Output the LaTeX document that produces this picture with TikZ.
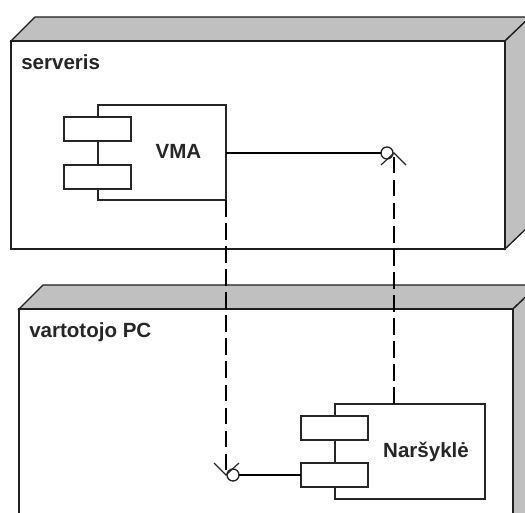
\documentclass[tikz,border=0pt]{standalone}
\usepackage{fontspec}
\setmainfont{Liberation Sans}
\tikzset{
  px/.style={x=0.75pt,y=-0.75pt},
  edge/.style={draw=black!88,line width=1pt,line join=miter},
  shade3d/.style={edge,fill=shadegray},
  face/.style={edge,fill=white},
  compbody/.style={draw=black!85,line width=1pt,fill=white,rectangle,inner sep=0pt,outer sep=0pt,minimum width=96pt,minimum height=71.25pt},
  comppart/.style={draw=black!85,line width=1pt,fill=white,rectangle,inner sep=0pt,outer sep=0pt,minimum width=50.25pt,minimum height=18pt},
  lollipop/.style={draw=black!88,line width=1pt,fill=white,circle,inner sep=0pt,outer sep=0pt,minimum size=9pt},
  lab/.style={font=\bfseries\fontsize{15.4pt}{17pt}\selectfont,text=black!85,inner sep=0pt,anchor=base west},
  complab/.style={font=\bfseries\fontsize{15.4pt}{17pt}\selectfont,text=black!85,inner sep=0pt,anchor=base},
  wire/.style={draw=black,line width=1pt},
  depend/.style={draw=black,line width=0.95pt,dash pattern=on 12.4pt off 4.9pt},
  tipline/.style={draw=black!85,line width=0.9pt},
}
\definecolor{shadegray}{HTML}{C0C0C0}
\begin{document}
\begin{tikzpicture}[px]
\useasboundingbox (0,0) rectangle (525,513);
\clip (0,0) rectangle (525,513);
\fill[white] (0,0) rectangle (525,513);
% server node
\path[shade3d] (11,41) -- (35,17) -- (530,17) -- (505,41) -- cycle;
\path[shade3d] (505,41) -- (530,17) -- (530,225) -- (505,249) -- cycle;
\path[face] (11,41) rectangle (505,249);
\node[lab] (serverlab) at (21,69.5) {serveris};
% client node
\path[shade3d] (19,309) -- (43,285) -- (538,285) -- (513,309) -- cycle;
\path[shade3d] (513,309) -- (538,285) -- (538,530) -- (513,530) -- cycle;
\path[face] (19,309) rectangle (513,530);
\node[lab] (pclab) at (29,337.5) {vartotojo PC};
% VMA component
\node[compbody] (vma) at (162,152.5) {};
\node[comppart] (vmaA) at (97.5,129) {};
\node[comppart] (vmaB) at (97.5,177) {};
\node[complab] (vmalab) at (178.5,159) {VMA};
% browser component
\node[compbody,minimum width=112.5pt] (nar) at (410,451.5) {};
\node[comppart] (narA) at (334.5,428) {};
\node[comppart] (narB) at (334.5,475) {};
\node[complab] (narlab) at (426,457) {Naršyklė};
% interfaces
\node[lollipop] (ifR) at (387,153) {};
\node[lollipop] (ifL) at (233,475) {};
\draw[wire] (vma.east |- ifR) -- (ifR.west);
\draw[wire] (narB.west |- ifL) -- (ifL.east);
% dependencies
\coordinate (tipR) at (394,153);
\coordinate (tipL) at (226,475);
\draw[depend] (nar.north -| tipR) -- (tipR);
\draw[depend] (vma.south -| tipL) -- (tipL);
\draw[tipline] (381,165) -- (tipR) -- (406,165);
\draw[tipline] (214,463) -- (tipL) -- (239,463);
\end{tikzpicture}
\end{document}
